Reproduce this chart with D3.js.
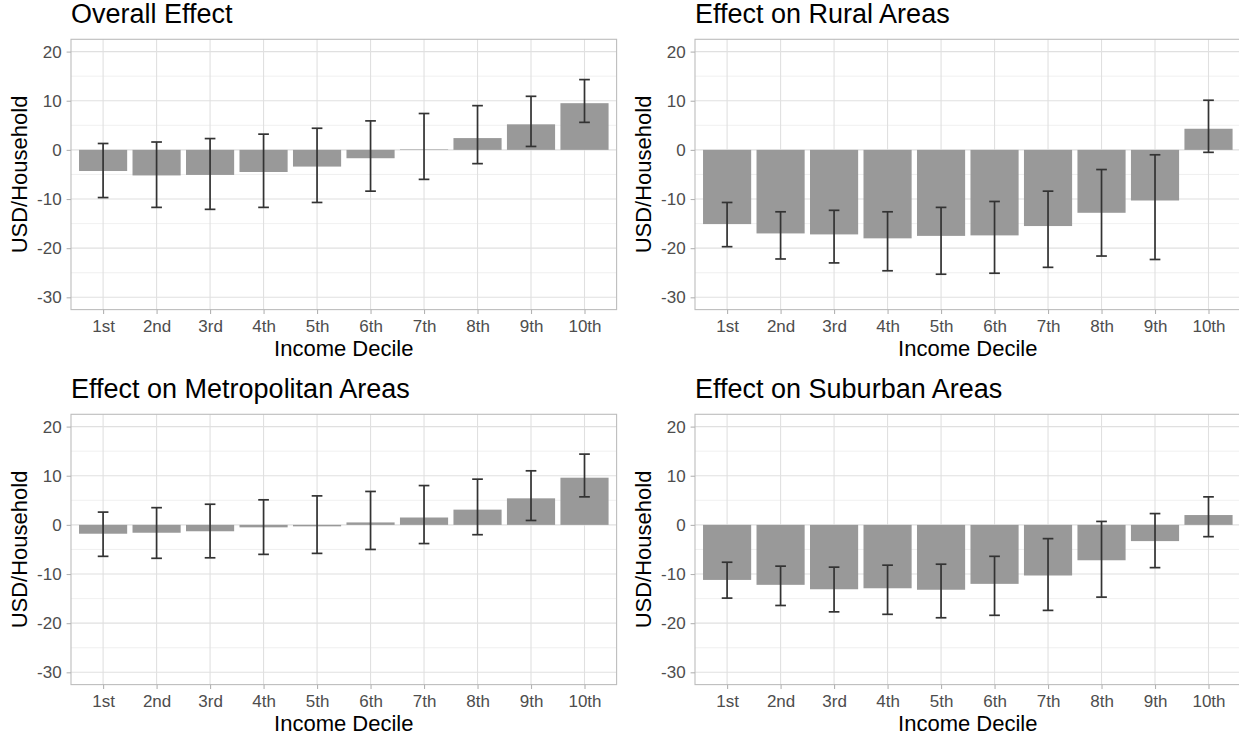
<!DOCTYPE html>
<html>
  <meta charset="utf-8" />
  <head>
    <title>Income decile effects</title>
    <script src="https://d3js.org/d3.v7.min.js"></script>
  </head>
  <style>
    body { margin: 0; background: #fff; }
    text { font-family: "Liberation Sans", Arial, Helvetica, sans-serif; }
  </style>
  <body>
    <svg width="1239" height="736"></svg>
    <script>
      // categories
      var deciles = ["1st", "2nd", "3rd", "4th", "5th", "6th", "7th", "8th", "9th", "10th"];
      var yTicks = [-30, -20, -10, 0, 10, 20];
      var yMinor = [-25, -15, -5, 5, 15];

      // overall effect: estimate, lower, upper
      var overall   = [-4.3, -5.2, -5.1, -4.5, -3.4, -1.7, 0.1, 2.4, 5.2, 9.5];
      var overallLo = [-9.7, -11.7, -12.1, -11.7, -10.7, -8.4, -6.0, -2.8, 0.7, 5.6];
      var overallHi = [1.3, 1.6, 2.3, 3.2, 4.4, 5.9, 7.4, 9.0, 10.9, 14.3];

      // rural areas
      var rural   = [-15.1, -17.0, -17.2, -18.0, -17.5, -17.4, -15.5, -12.8, -10.3, 4.3];
      var ruralLo = [-19.7, -22.2, -23.0, -24.6, -25.3, -25.1, -23.9, -21.6, -22.3, -0.5];
      var ruralHi = [-10.7, -12.6, -12.3, -12.6, -11.7, -10.5, -8.4, -4.0, -1.0, 10.1];

      // metropolitan areas
      var metro   = [-1.8, -1.6, -1.3, -0.5, -0.3, 0.5, 1.5, 3.1, 5.4, 9.6];
      var metroLo = [-6.4, -6.8, -6.7, -6.0, -5.8, -5.0, -3.8, -2.0, 0.9, 5.7];
      var metroHi = [2.6, 3.5, 4.2, 5.1, 5.9, 6.8, 8.0, 9.3, 11.0, 14.4];

      // suburban areas
      var suburban   = [-11.2, -12.2, -13.1, -12.9, -13.2, -12.0, -10.3, -7.2, -3.3, 2.0];
      var suburbanLo = [-14.9, -16.4, -17.7, -18.2, -18.9, -18.4, -17.4, -14.7, -8.7, -2.4];
      var suburbanHi = [-7.6, -8.4, -8.6, -8.2, -8.0, -6.4, -2.8, 0.7, 2.3, 5.7];

      var svg = d3.select("svg");
      var w = 545.6, h = 270.3;

      var panels = [
        {title: "Overall Effect", v: overall, lo: overallLo, hi: overallHi, ox: 71, oy: 39.3},
        {title: "Effect on Rural Areas", v: rural, lo: ruralLo, hi: ruralHi, ox: 695, oy: 39.3},
        {title: "Effect on Metropolitan Areas", v: metro, lo: metroLo, hi: metroHi, ox: 71, oy: 414.3},
        {title: "Effect on Suburban Areas", v: suburban, lo: suburbanLo, hi: suburbanHi, ox: 695, oy: 414.3}
      ];

      panels.forEach(function(p) {
        var g = svg.append("g").attr("transform", "translate(" + p.ox + "," + p.oy + ")");

        var x = d3.scalePoint().domain(deciles).range([0, w]).padding(0.6);
        var step = x.step();
        var y = d3.scaleLinear().domain([-32.5, 22.5]).range([h, 0]);

        var rows = deciles.map(function(d, i) {
          return {key: d, v: p.v[i], lo: p.lo[i], hi: p.hi[i]};
        });

        // grid
        g.selectAll(".minor").data(yMinor).enter().append("line")
          .attr("x1", 0).attr("x2", w)
          .attr("y1", function(d) { return y(d); }).attr("y2", function(d) { return y(d); })
          .attr("stroke", "#ececec").attr("stroke-width", 0.8);
        g.selectAll(".majory").data(yTicks).enter().append("line")
          .attr("x1", 0).attr("x2", w)
          .attr("y1", function(d) { return y(d); }).attr("y2", function(d) { return y(d); })
          .attr("stroke", "#e0e0e0").attr("stroke-width", 1.1);
        g.selectAll(".majorx").data(deciles).enter().append("line")
          .attr("y1", 0).attr("y2", h)
          .attr("x1", function(d) { return x(d); }).attr("x2", function(d) { return x(d); })
          .attr("stroke", "#e0e0e0").attr("stroke-width", 1.1);

        // bars
        g.selectAll(".bar").data(rows).enter().append("rect")
          .attr("x", function(d) { return x(d.key) - step * 0.45; })
          .attr("width", step * 0.9)
          .attr("y", function(d) { return y(Math.max(0, d.v)); })
          .attr("height", function(d) { return Math.abs(y(d.v) - y(0)); })
          .attr("fill", "#999999");

        // error bars
        var eb = g.selectAll(".err").data(rows).enter().append("g")
          .attr("stroke", "#333333").attr("stroke-width", 1.7).attr("fill", "none");
        eb.append("line")
          .attr("x1", function(d) { return x(d.key); }).attr("x2", function(d) { return x(d.key); })
          .attr("y1", function(d) { return y(d.hi); }).attr("y2", function(d) { return y(d.lo); });
        eb.append("line")
          .attr("x1", function(d) { return x(d.key) - step * 0.1; }).attr("x2", function(d) { return x(d.key) + step * 0.1; })
          .attr("y1", function(d) { return y(d.hi); }).attr("y2", function(d) { return y(d.hi); });
        eb.append("line")
          .attr("x1", function(d) { return x(d.key) - step * 0.1; }).attr("x2", function(d) { return x(d.key) + step * 0.1; })
          .attr("y1", function(d) { return y(d.lo); }).attr("y2", function(d) { return y(d.lo); });

        // border
        g.append("rect").attr("width", w).attr("height", h)
          .attr("fill", "none").attr("stroke", "#bdbdbd").attr("stroke-width", 1.1);

        // axes
        var ya = g.append("g").call(d3.axisLeft(y).tickValues(yTicks)
          .tickFormat(function(d) { return String(d); }).tickSize(4.4).tickPadding(5));
        var xa = g.append("g").attr("transform", "translate(0," + h + ")")
          .call(d3.axisBottom(x).tickSize(4.4).tickPadding(6));
        [ya, xa].forEach(function(a) {
          a.select(".domain").remove();
          a.selectAll(".tick line").attr("stroke", "#b3b3b3").attr("stroke-width", 1.1);
          a.selectAll(".tick text").attr("fill", "#4d4d4d").attr("font-size", 17)
            .attr("font-family", "'Liberation Sans', Arial, Helvetica, sans-serif");
        });

        // titles
        g.append("text").attr("x", 0).attr("y", -16)
          .attr("font-size", 27).attr("fill", "#000").text(p.title);
        g.append("text").attr("x", w / 2).attr("y", h + 46.7)
          .attr("text-anchor", "middle").attr("font-size", 22).attr("fill", "#000")
          .text("Income Decile");
        g.append("text").attr("transform", "translate(-44," + (h / 2) + ") rotate(-90)")
          .attr("text-anchor", "middle").attr("font-size", 22).attr("fill", "#000")
          .text("USD/Household");
      });
    </script>
  </body>
</html>
